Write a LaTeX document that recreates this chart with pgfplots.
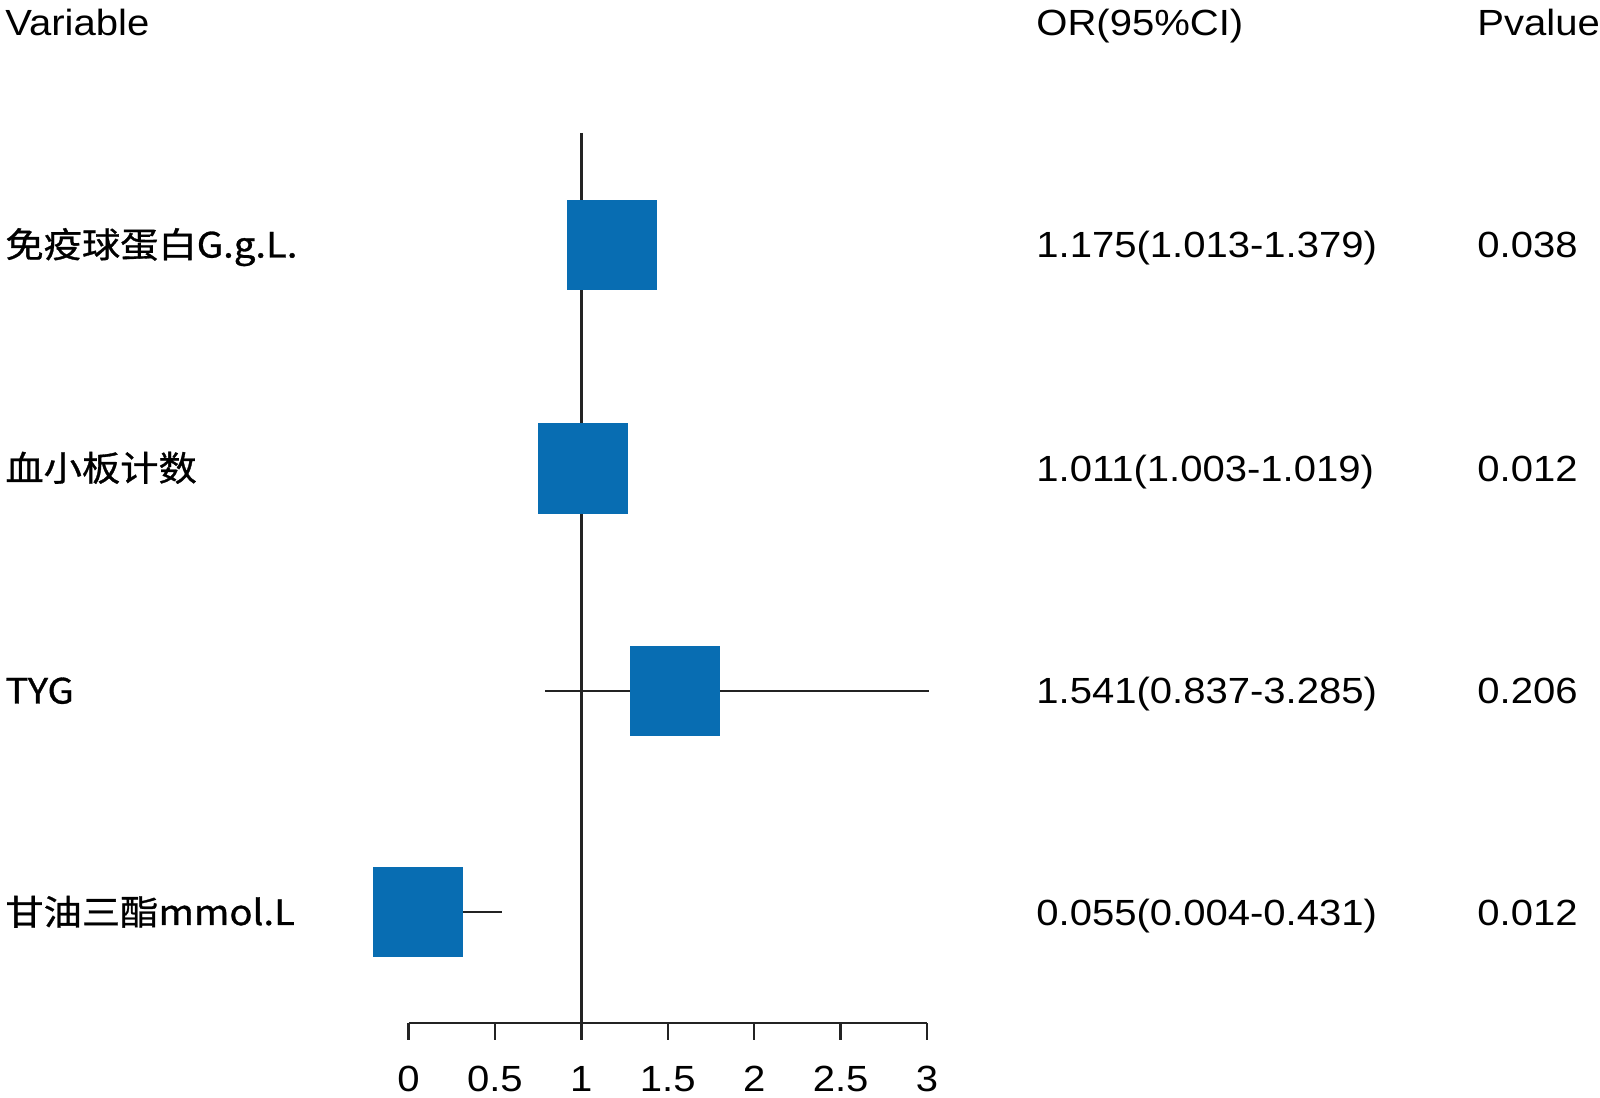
\documentclass[border=0pt]{standalone}
\usepackage{fontspec}
\setmainfont{Liberation Sans}[FakeStretch=1.1]
\newfontfamily\cjk{Noto Sans CJK SC}[FakeStretch=1.1, FakeBold=0.9]
\usepackage{pgfplots}
\pgfplotsset{compat=1.18}
\definecolor{boxblue}{RGB}{8,109,178}
\definecolor{linegray}{RGB}{35,35,35}
\newcommand{\tf}{\fontsize{18.2}{21}\selectfont}
\newcommand{\cf}{\cjk\fontsize{17.4}{20}\selectfont}
\begin{document}
\begin{tikzpicture}
\begin{axis}[
  scale only axis, width=259.25pt, height=445pt,
  xmin=0, xmax=3, ymin=-1023, ymax=-133,
  axis x line=bottom, axis y line=none,
  axis line style={linegray, line width=1.25pt, -},
  xtick={0,0.5,1,1.5,2,2.5,3},
  xticklabels={0,0.5,1,1.5,2,2.5,3},
  /pgf/number format/assume math mode=true,
  xtick align=outside, major tick length=8.5pt,
  tick style={linegray, line width=1.25pt},
  xticklabel style={font=\tf, anchor=north, inner sep=0pt, yshift=-13pt},
  clip=false,
]
% reference line at OR = 1
\addplot[linegray, line width=1.25pt] coordinates {(1,-133) (1,-1023)};
% confidence intervals
\addplot[linegray, line width=1.25pt] coordinates {(1.013,-245) (1.379,-245)};
\addplot[linegray, line width=1.25pt] coordinates {(1.003,-468.4) (1.019,-468.4)};
\addplot[linegray, line width=1.25pt] coordinates {(0.79,-690.8) (3.01,-690.8)};
\addplot[linegray, line width=1.25pt] coordinates {(0.004,-912.2) (0.541,-912.2)};
% point estimates
\addplot[boxblue, only marks, mark=square*, mark size=22.3pt,
  mark options={draw=boxblue, fill=boxblue, line width=0.4pt}]
  coordinates {(1.175,-245) (1.011,-468.4) (1.541,-690.8) (0.055,-912.2)};

% headers
\node[anchor=base west, font=\tf, inner sep=0pt] at (axis cs:-2.3346,-36) {Variable};
\node[anchor=base west, font=\tf, inner sep=0pt] at (axis cs:3.6307,-36) {OR(95\%CI)};
\node[anchor=base west, font=\tf, inner sep=0pt] at (axis cs:6.1823,-36) {Pvalue};
% row labels
\node[anchor=base west, font=\cf, inner sep=0pt] at (axis cs:-2.3346,-257.5) {免疫球蛋白G.g.L.};
\node[anchor=base west, font=\cf, inner sep=0pt] at (axis cs:-2.3346,-481) {血小板计数};
\node[anchor=base west, font=\cf, inner sep=0pt] at (axis cs:-2.3346,-703.5) {TYG};
\node[anchor=base west, font=\cf, inner sep=0pt] at (axis cs:-2.3346,-925) {甘油三酯mmol.L};
% OR values
\node[anchor=base west, font=\tf, inner sep=0pt] at (axis cs:3.6307,-258) {1.175(1.013-1.379)};
\node[anchor=base west, font=\tf, inner sep=0pt] at (axis cs:3.6307,-481.4) {1.011(1.003-1.019)};
\node[anchor=base west, font=\tf, inner sep=0pt] at (axis cs:3.6307,-703.8) {1.541(0.837-3.285)};
\node[anchor=base west, font=\tf, inner sep=0pt] at (axis cs:3.6307,-925.2) {0.055(0.004-0.431)};
% P values
\node[anchor=base west, font=\tf, inner sep=0pt] at (axis cs:6.1823,-258) {0.038};
\node[anchor=base west, font=\tf, inner sep=0pt] at (axis cs:6.1823,-481.4) {0.012};
\node[anchor=base west, font=\tf, inner sep=0pt] at (axis cs:6.1823,-703.8) {0.206};
\node[anchor=base west, font=\tf, inner sep=0pt] at (axis cs:6.1823,-925.2) {0.012};
% picture frame
\path (axis cs:-2.3636,0) rectangle (axis cs:6.8939,-1097);
\end{axis}
\end{tikzpicture}
\end{document}
